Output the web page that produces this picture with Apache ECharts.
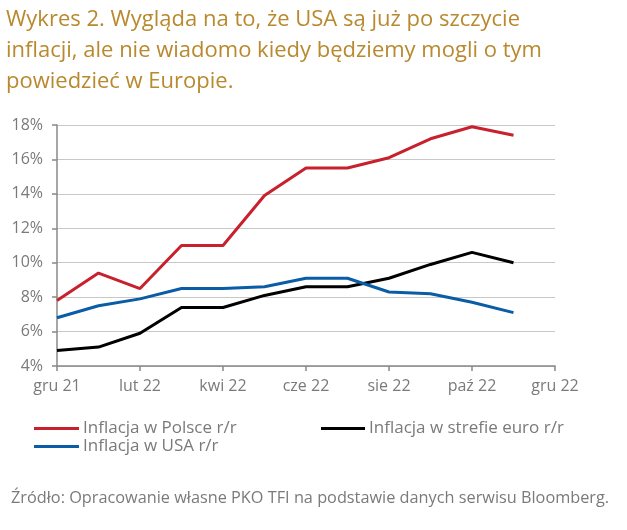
<!DOCTYPE html>
<html>
<head>
<meta charset="utf-8">
<script src="https://cdn.jsdelivr.net/npm/echarts@6/dist/echarts.min.js"></script>
<style>html,body{margin:0;padding:0;background:#fff;}#c{width:627px;height:530px;}</style>
</head>
<body>
<div id="c"></div>
<script>
const months = ['gru 21','sty 22','lut 22','mar 22','kwi 22','maj 22','cze 22','lip 22','sie 22','wrz 22','paź 22','lis 22','gru 22'];
const plValues = [7.8, 9.4, 8.5, 11.0, 11.0, 13.9, 15.5, 15.5, 16.1, 17.2, 17.9, 17.4];
const euroValues = [4.9, 5.1, 5.9, 7.4, 7.4, 8.1, 8.6, 8.6, 9.1, 9.9, 10.6, 10.0];
const usaValues = [6.8, 7.5, 7.9, 8.5, 8.5, 8.6, 9.1, 9.1, 8.3, 8.2, 7.7, 7.1];
const seriesNames = ['Inflacja w Polsce r/r', 'Inflacja w strefie euro r/r', 'Inflacja w USA r/r'];
const titleText = 'Wykres 2. Wygląda na to, że USA są już po szczycie\ninflacji, ale nie wiadomo kiedy będziemy mogli o tym\npowiedzieć w Europie.';
const sourceText = 'Źródło: Opracowanie własne PKO TFI na podstawie danych serwisu Bloomberg.';

const FONT = 'Open Sans';
const chart = echarts.init(document.getElementById('c'));
chart.setOption({
  animation: false,
  backgroundColor: '#fff',
  textStyle: { fontFamily: FONT },
  title: [
    { text: titleText, left: 6, top: 4, padding: 0,
      textStyle: { fontFamily: FONT, fontSize: 22, fontWeight: 'normal', color: '#B8892E', lineHeight: 31 } },
    { text: sourceText, left: 11, top: 490, padding: 0,
      textStyle: { fontFamily: FONT, fontSize: 16.3, fontWeight: 'normal', color: '#7a7a7a', lineHeight: 16 } }
  ],
  legend: [
    { data: [seriesNames[0], seriesNames[2]], orient: 'vertical', left: 34, top: 420, padding: 0,
      icon: 'rect', itemWidth: 45, itemHeight: 3, itemGap: 1,
      textStyle: { fontFamily: FONT, fontSize: 17, lineHeight: 17, color: '#7a7a7a', padding: [0,0,0,-1] } },
    { data: [seriesNames[1]], orient: 'vertical', left: 321, top: 420, padding: 0,
      icon: 'rect', itemWidth: 44, itemHeight: 3, itemGap: 1,
      textStyle: { fontFamily: FONT, fontSize: 17, lineHeight: 17, color: '#7a7a7a', padding: [0,0,0,-1] } }
  ],
  grid: { left: 57, right: 72, top: 125, bottom: 164 },
  xAxis: {
    type: 'category', data: months, boundaryGap: false,
    axisLine: { lineStyle: { color: '#888', width: 1.5 } },
    axisTick: { interval: 1, length: 5, lineStyle: { color: '#888', width: 1.5 } },
    axisLabel: { interval: 1, color: '#7a7a7a', fontSize: 16, fontFamily: FONT, margin: 12 },
    splitLine: { show: false }
  },
  yAxis: {
    type: 'value', min: 4, max: 18, interval: 2,
    axisLine: { show: true, lineStyle: { color: '#888', width: 1.5 } },
    axisTick: { show: true, length: 5, lineStyle: { color: '#888', width: 1.5 } },
    axisLabel: { formatter: '{value}%', color: '#7a7a7a', fontSize: 16, fontFamily: FONT, margin: 14 },
    splitLine: { lineStyle: { color: '#c8c8c8', width: 1.2 } }
  },
  series: [
    { name: seriesNames[0], type: 'line', data: plValues, symbol: 'none', color: '#C8202C', lineStyle: { width: 3 } },
    { name: seriesNames[1], type: 'line', data: euroValues, symbol: 'none', color: '#000000', lineStyle: { width: 3 } },
    { name: seriesNames[2], type: 'line', data: usaValues, symbol: 'none', color: '#0A5CA6', lineStyle: { width: 3 } }
  ]
});
</script>
</body>
</html>
